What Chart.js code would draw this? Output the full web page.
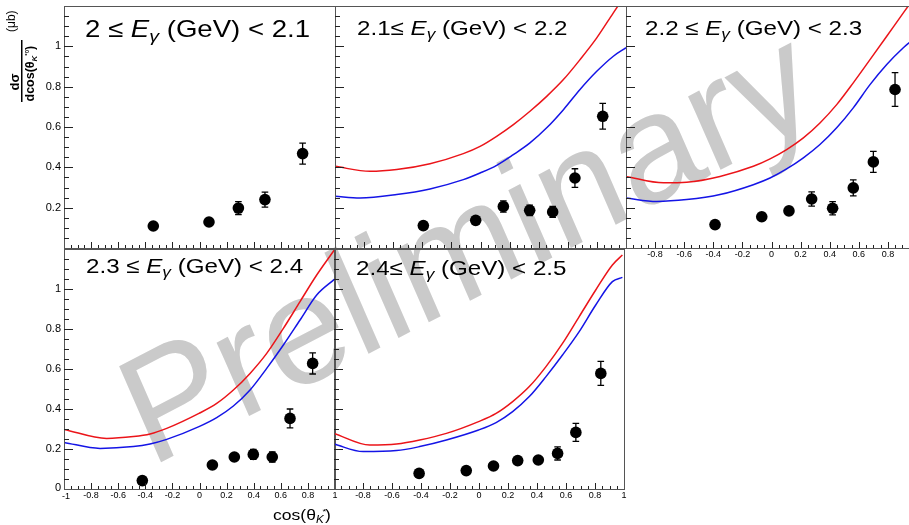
<!DOCTYPE html>
<html><head><meta charset="utf-8">
<script src="https://cdn.jsdelivr.net/npm/chart.js@4"></script>
<style>
html,body{margin:0;padding:0;background:#fff;}
#wrap{position:relative;width:909px;height:525px;overflow:hidden;background:#fff;}
canvas{position:absolute;left:0;top:0;}
</style></head>
<body><div id="wrap">
<canvas id="wm" width="909" height="525"></canvas>
<canvas id="c1" width="909" height="525"></canvas>
<canvas id="c2" width="909" height="525"></canvas>
<canvas id="c3" width="930" height="525"></canvas>
<canvas id="c4" width="909" height="525"></canvas>
<canvas id="c5" width="909" height="525"></canvas>
</div>
<script>
// ---- tick labels ----
const xTickVals = [-1, -0.8, -0.6, -0.4, -0.2, 0, 0.2, 0.4, 0.6, 0.8, 1];
const xTickLabels = ['-1', '-0.8', '-0.6', '-0.4', '-0.2', '0', '0.2', '0.4', '0.6', '0.8', '1'];
const yTickVals = [0, 0.2, 0.4, 0.6, 0.8, 1];
const yTickLabels = ['0', '0.2', '0.4', '0.6', '0.8', '1'];

// ---- panel titles ----
const titlePre = ['2 \u2264 ', '2.1\u2264 ', '2.2 \u2264 ', '2.3 \u2264 ', '2.4\u2264 '];
const titlePost = [' (GeV) < 2.1', ' (GeV) < 2.2', ' (GeV) < 2.3', ' (GeV) < 2.4', ' (GeV) < 2.5'];

// ---- data points (x, y, error) ----
const p1X = [-0.341, 0.070, 0.287, 0.483, 0.761];
const p1Y = [0.109, 0.129, 0.198, 0.240, 0.468];
const p1E = [0.010, 0.012, 0.032, 0.037, 0.052];

const p2X = [-0.393, -0.033, 0.157, 0.338, 0.496, 0.649, 0.840];
const p2Y = [0.111, 0.137, 0.206, 0.187, 0.179, 0.347, 0.653];
const p2E = [0.012, 0.015, 0.028, 0.026, 0.027, 0.046, 0.064];

const p3X = [-0.388, -0.067, 0.120, 0.276, 0.420, 0.562, 0.700, 0.849];
const p3Y = [0.116, 0.155, 0.184, 0.243, 0.197, 0.298, 0.427, 0.786];
const p3E = [0.012, 0.015, 0.018, 0.035, 0.033, 0.040, 0.052, 0.084];

const p4X = [-0.422, 0.095, 0.257, 0.397, 0.537, 0.668, 0.835];
const p4Y = [0.042, 0.120, 0.160, 0.173, 0.160, 0.353, 0.628];
const p4E = [0.010, 0.012, 0.016, 0.025, 0.025, 0.047, 0.053];

const p5X = [-0.413, -0.088, 0.100, 0.267, 0.409, 0.542, 0.668, 0.840];
const p5Y = [0.078, 0.092, 0.115, 0.142, 0.145, 0.178, 0.283, 0.578];
const p5E = [0.010, 0.010, 0.012, 0.015, 0.016, 0.033, 0.045, 0.060];

// ---- model curves (red / blue) ----
const red2X = [-1, -0.759, -0.576, -0.347, -0.118, -0.003, 0.111, 0.226, 0.340, 0.455, 0.570, 0.684, 0.799, 0.913, 1.0];
const red2Y = [0.405, 0.380, 0.389, 0.418, 0.468, 0.504, 0.554, 0.612, 0.678, 0.752, 0.835, 0.934, 1.042, 1.166, 1.26];
const blue2X = [-1, -0.828, -0.576, -0.347, -0.118, -0.003, 0.111, 0.226, 0.340, 0.455, 0.570, 0.684, 0.799, 0.913, 1.0];
const blue2Y = [0.256, 0.248, 0.265, 0.293, 0.339, 0.372, 0.410, 0.463, 0.521, 0.596, 0.686, 0.786, 0.876, 0.951, 0.993];

const red3X = [-1, -0.743, -0.583, -0.354, -0.125, -0.010, 0.104, 0.219, 0.333, 0.448, 0.562, 0.677, 0.792, 0.906, 1.0];
const red3Y = [0.355, 0.323, 0.326, 0.355, 0.405, 0.442, 0.488, 0.546, 0.620, 0.711, 0.819, 0.934, 1.050, 1.166, 1.26];
const blue3X = [-1, -0.789, -0.583, -0.354, -0.125, -0.010, 0.104, 0.219, 0.333, 0.448, 0.562, 0.677, 0.792, 0.906, 0.945, 1.0];
const blue3Y = [0.248, 0.231, 0.240, 0.265, 0.314, 0.347, 0.392, 0.447, 0.513, 0.596, 0.695, 0.810, 0.910, 0.993, 1.017, 1.04];

const red4X = [-1, -0.685, -0.488, -0.365, -0.242, -0.004, 0.127, 0.250, 0.373, 0.496, 0.619, 0.742, 0.865, 0.995];
const red4Y = [0.298, 0.253, 0.262, 0.275, 0.303, 0.378, 0.428, 0.495, 0.578, 0.678, 0.803, 0.937, 1.070, 1.195];
const blue4X = [-1, -0.734, -0.488, -0.365, -0.242, -0.004, 0.127, 0.250, 0.373, 0.496, 0.619, 0.742, 0.865, 0.995];
const blue4Y = [0.233, 0.203, 0.212, 0.225, 0.248, 0.312, 0.357, 0.415, 0.495, 0.603, 0.720, 0.845, 0.970, 1.048];

const red5X = [-1, -0.753, -0.569, -0.409, -0.225, -0.003, 0.118, 0.232, 0.347, 0.462, 0.576, 0.691, 0.805, 0.920, 0.989];
const red5Y = [0.278, 0.220, 0.225, 0.245, 0.278, 0.337, 0.378, 0.437, 0.512, 0.612, 0.728, 0.862, 0.995, 1.120, 1.170];
const blue5X = [-1, -0.799, -0.569, -0.409, -0.225, -0.003, 0.118, 0.232, 0.347, 0.462, 0.576, 0.691, 0.805, 0.920, 0.989];
const blue5Y = [0.225, 0.187, 0.192, 0.212, 0.245, 0.295, 0.332, 0.387, 0.462, 0.562, 0.670, 0.787, 0.920, 1.037, 1.058];

const FONT = '"Liberation Sans", Arial, sans-serif';
const STRETCH = 1.15;

function pts(xs, ys) { return xs.map((x, i) => ({ x: x, y: ys[i] })); }

// ---- watermark ----
(function () {
  const c = document.getElementById('wm').getContext('2d');
  c.save();
  c.setTransform(0.886, -0.463, 0.40, 0.917, 150, 468);
  c.font = '152px ' + FONT;
  c.fillStyle = '#cacaca';
  c.fillText('Preliminary', 0, 0);
  c.restore();
})();

function drawTitle(ctx, x, y, size, pre, post) {
  ctx.save();
  ctx.translate(x, y);
  ctx.scale(STRETCH, 1);
  ctx.fillStyle = '#000';
  ctx.textAlign = 'left';
  ctx.textBaseline = 'alphabetic';
  let cx = 0;
  ctx.font = size + 'px ' + FONT;
  ctx.fillText(pre, cx, 0); cx += ctx.measureText(pre).width;
  ctx.font = 'italic ' + size + 'px ' + FONT;
  ctx.fillText('E', cx, 0); cx += ctx.measureText('E').width;
  const ss = Math.round(size * 0.72);
  ctx.font = 'italic ' + ss + 'px ' + FONT;
  ctx.fillText('\u03b3', cx, size * 0.2); cx += ctx.measureText('\u03b3').width;
  ctx.font = size + 'px ' + FONT;
  ctx.fillText(post, cx, 0);
  ctx.restore();
}

function drawYTitle(ctx) {
  ctx.save();
  ctx.rotate(-Math.PI / 2);   // text x -> screen up, text y -> screen right
  ctx.fillStyle = '#000';
  ctx.textBaseline = 'alphabetic';
  ctx.font = 'bold 13px ' + FONT;
  ctx.textAlign = 'center';
  ctx.fillText('d\u03c3', -82, 19);
  ctx.fillRect(-102, 21, 62, 1.5);
  ctx.textAlign = 'left';
  ctx.font = 'bold 12.5px ' + FONT;
  let t = -101.5;
  ctx.fillText('dcos(\u03b8', t, 33.5); t += ctx.measureText('dcos(\u03b8').width;
  ctx.font = 'italic bold 8px ' + FONT;
  ctx.fillText('K', t, 37); const kw = ctx.measureText('K').width;
  ctx.font = 'bold 6px ' + FONT;
  ctx.fillText('*0', t + kw, 29); t += kw + ctx.measureText('*0').width;
  ctx.font = 'bold 12.5px ' + FONT;
  ctx.fillText(')', t, 33.5);
  ctx.font = '12px ' + FONT;
  ctx.fillText('(\u03bcb)', -32, 15);
  ctx.restore();
}

function drawXTitle(ctx) {
  ctx.save();
  ctx.translate(273, 516);
  ctx.scale(1.17, 1);
  ctx.fillStyle = '#000';
  ctx.textAlign = 'left';
  ctx.font = '15px ' + FONT;
  let t = 0;
  ctx.fillText('cos(\u03b8', t, 0); t += ctx.measureText('cos(\u03b8').width;
  ctx.font = 'italic 10px ' + FONT;
  ctx.fillText('K', t, 4); const kw = ctx.measureText('K').width;
  ctx.font = '8px ' + FONT;
  ctx.fillText('*', t + kw - 1, -4); t += kw + 1;
  ctx.font = '15px ' + FONT;
  ctx.fillText(')', t, 0);
  ctx.restore();
}

const panelPlugin = {
  id: 'rootPanel',
  beforeDatasetDraw(chart, args) {
    if (args.index !== 0) return;
    const cfg = chart.options.plugins.rootPanel;
    const ctx = chart.ctx, xs = chart.scales.x, ys = chart.scales.y;
    ctx.save();
    ctx.strokeStyle = '#000';
    ctx.lineWidth = 1.3;
    cfg.px.forEach((x, i) => {
      const X = xs.getPixelForValue(x);
      const y1 = ys.getPixelForValue(cfg.py[i] + cfg.pe[i]);
      const y0 = ys.getPixelForValue(cfg.py[i] - cfg.pe[i]);
      ctx.beginPath();
      ctx.moveTo(X, y0); ctx.lineTo(X, y1);
      ctx.moveTo(X - 3.3, y0); ctx.lineTo(X + 3.3, y0);
      ctx.moveTo(X - 3.3, y1); ctx.lineTo(X + 3.3, y1);
      ctx.stroke();
    });
    ctx.restore();
  },
  afterDraw(chart) {
    const cfg = chart.options.plugins.rootPanel;
    const ctx = chart.ctx, a = chart.chartArea, xs = chart.scales.x, ys = chart.scales.y;
    ctx.save();
    // frame
    ctx.strokeStyle = '#555';
    ctx.lineWidth = 1;
    ctx.strokeRect(Math.round(a.left) + 0.5, Math.round(a.top) + 0.5, Math.round(a.right - a.left), Math.round(a.bottom - a.top));
    // y ticks (inside, left)
    ctx.strokeStyle = '#222';
    ctx.beginPath();
    for (let k = 1; k < 24; k++) {
      const v = k * 0.05;
      const Y = Math.round(ys.getPixelForValue(v)) + 0.5;
      const len = (k % 4 === 0) ? 9 : 5;
      ctx.moveTo(a.left, Y); ctx.lineTo(a.left + len, Y);
    }
    // x ticks (inside, bottom)
    for (let k = 1; k < 40; k++) {
      const v = -1 + k * 0.05;
      const X = Math.round(xs.getPixelForValue(v)) + 0.5;
      const len = (k % 4 === 0) ? 6 : 3;
      ctx.moveTo(X, a.bottom); ctx.lineTo(X, a.bottom - len);
    }
    ctx.stroke();
    ctx.fillStyle = '#000';
    // y labels
    if (cfg.yLabels) {
      ctx.font = '11px ' + FONT;
      ctx.textAlign = 'right';
      ctx.textBaseline = 'middle';
      yTickVals.forEach((v, i) => {
        if (v === 0 && !cfg.yZero) return;
        const Y = ys.getPixelForValue(v);
        ctx.fillText(yTickLabels[i], a.left - 3, v === 0 ? Y - 1 : Y);
      });
    }
    // x labels
    if (cfg.xLabels) {
      ctx.font = '9px ' + FONT;
      ctx.textAlign = 'center';
      ctx.textBaseline = 'middle';
      xTickVals.forEach((v, i) => {
        if (v === -1 && !cfg.xMinus1) return;
        const X = xs.getPixelForValue(v);
        ctx.fillText(xTickLabels[i], X + (v === -1 ? 2 : 0), a.bottom + (v === -1 ? 8 : 7));
      });
    }
    drawTitle(ctx, cfg.tx, cfg.ty, cfg.ts, titlePre[cfg.idx], titlePost[cfg.idx]);
    if (cfg.yTitle) drawYTitle(ctx);
    if (cfg.xTitle) drawXTitle(ctx);
    ctx.restore();
  }
};

function makePanel(id, rect, W, H, px, py, pe, redX, redY, blueX, blueY, extra) {
  const ds = [{
    data: pts(px, py), pointRadius: 5.8, pointBackgroundColor: '#000', pointBorderWidth: 0,
    pointBorderColor: '#000', showLine: false
  }];
  if (redX) {
    ds.push({ data: pts(redX, redY), showLine: true, borderColor: 'rgb(235,20,25)', borderWidth: 1.5,
      pointRadius: 0, cubicInterpolationMode: 'monotone', fill: false });
    ds.push({ data: pts(blueX, blueY), showLine: true, borderColor: 'rgb(20,20,230)', borderWidth: 1.5,
      pointRadius: 0, cubicInterpolationMode: 'monotone', fill: false });
  }
  const rp = Object.assign({ px: px, py: py, pe: pe }, extra);
  return new Chart(document.getElementById(id), {
    type: 'scatter',
    data: { datasets: ds },
    options: {
      responsive: false, animation: false, events: [],
      layout: { padding: { left: rect[0], top: rect[1], right: W - rect[2], bottom: H - rect[3] } },
      plugins: { legend: { display: false }, tooltip: { enabled: false }, title: { display: false }, rootPanel: rp },
      scales: {
        x: { type: 'linear', min: -1, max: 1, display: false },
        y: { type: 'linear', min: 0, max: 1.2, display: false }
      }
    },
    plugins: [panelPlugin]
  });
}

makePanel('c1', [64, 6, 335, 248], 909, 525, p1X, p1Y, p1E, null, null, null, null,
  { idx: 0, tx: 85, ty: 37, ts: 24, yLabels: true, yZero: false, yTitle: true });
makePanel('c2', [335, 6, 626, 248], 909, 525, p2X, p2Y, p2E, red2X, red2Y, blue2X, blue2Y,
  { idx: 1, tx: 357, ty: 35, ts: 21 });
makePanel('c3', [626, 6, 917, 248], 930, 525, p3X, p3Y, p3E, red3X, red3Y, blue3X, blue3Y,
  { idx: 2, tx: 645, ty: 35, ts: 21, xLabels: true, xMinus1: false });
makePanel('c4', [64, 249, 335, 489], 909, 525, p4X, p4Y, p4E, red4X, red4Y, blue4X, blue4Y,
  { idx: 3, tx: 86, ty: 273, ts: 21, yLabels: true, yZero: true, xLabels: true, xMinus1: true, xTitle: true });
makePanel('c5', [334, 249, 624, 489], 909, 525, p5X, p5Y, p5E, red5X, red5Y, blue5X, blue5Y,
  { idx: 4, tx: 356, ty: 275, ts: 21, xLabels: true, xMinus1: false });
</script>
</body></html>
